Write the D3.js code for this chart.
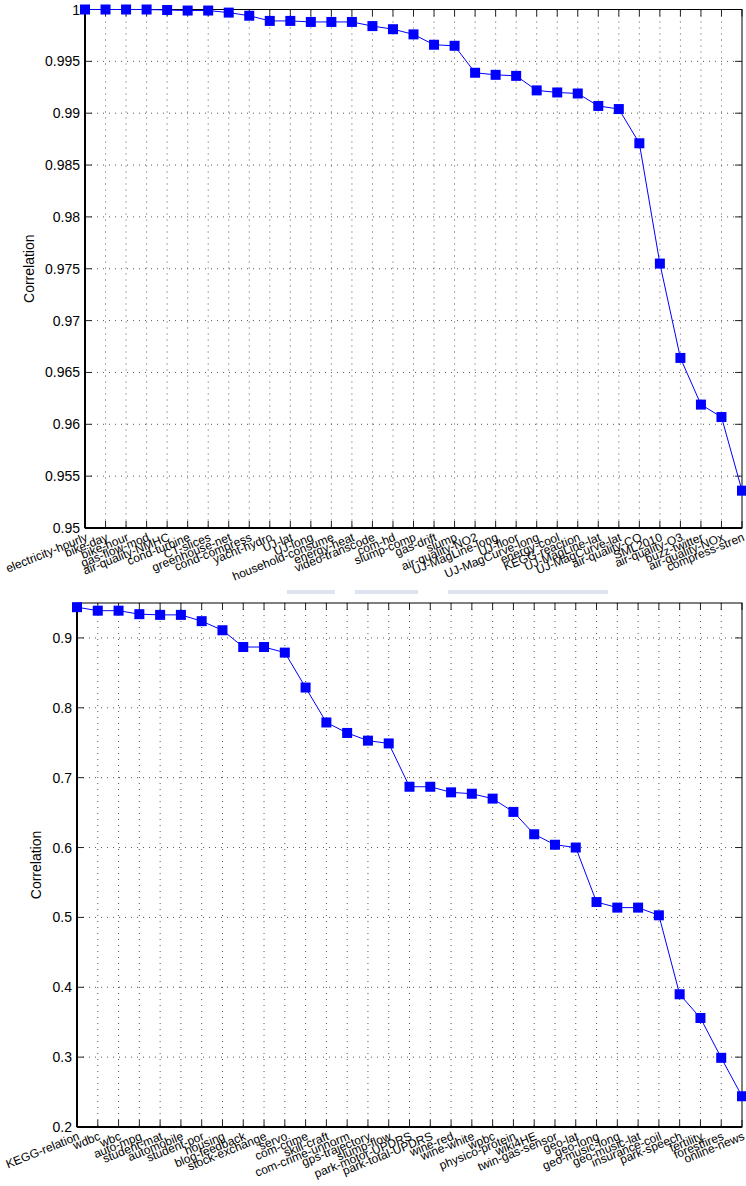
<!DOCTYPE html>
<html>
<head>
<meta charset="utf-8">
<script src="https://cdn.jsdelivr.net/npm/d3@7"></script>
<style>
  body { margin: 0; background: #fff; }
  svg { display: block; font-family: "Liberation Sans", Arial, Helvetica, sans-serif; }
</style>
</head>
<body>
<div id="chart"></div>
<script>
// top panel data
const topNames = ["electricity-hourly", "bike-day", "bike-hour", "gas-flow-mod", "air-quality-NMHC",
  "cond-turbine", "CT-slices", "greenhouse-net", "cond-compress", "yacht-hydro", "UJ-lat", "UJ-long",
  "household-consume", "energy-heat", "video-transcode", "com-hd", "slump-comp", "gas-drift", "slump",
  "air-quality-NO2", "UJ-MagLine-long", "UJ-floor", "UJ-MagCurve-long", "energy-cool", "KEGG-reaction",
  "UJ-MagLine-lat", "UJ-MagCurve-lat", "air-quality-CO", "SML2010", "air-quality-O3", "buzz-twitter",
  "air-quality-NOx", "compress-stren"];
const topValues = [1.0000, 1.0000, 1.0000, 1.0000, 0.99995, 0.9999, 0.9999, 0.9997, 0.9994, 0.9989,
  0.9989, 0.9988, 0.9988, 0.9988, 0.9984, 0.9981, 0.9976, 0.9966, 0.9965, 0.9939, 0.9937, 0.9936,
  0.9922, 0.9920, 0.9919, 0.9907, 0.9904, 0.9871, 0.9755, 0.9664, 0.9619, 0.9607, 0.9536];
const topTicks = [0.95, 0.955, 0.96, 0.965, 0.97, 0.975, 0.98, 0.985, 0.99, 0.995, 1];

// bottom panel data
const bottomNames = ["KEGG-relation", "wdbc", "wbc", "auto-mpg", "student-mat", "automobile",
  "student-por", "housing", "blog-feedback", "stock-exchange", "servo", "com-crime", "skill-craft",
  "com-crime-unnorm", "gps-trajectory", "slump-flow", "park-motor-UPDRS", "park-total-UPDRS",
  "wine-red", "wine-white", "wpbc", "physico-protein", "wiki4HE", "twin-gas-sensor", "geo-lat",
  "geo-long", "geo-music-long", "geo-music-lat", "insurance-coil", "park-speech", "fertility",
  "forestfires", "online-news"];
const bottomValues = [0.944, 0.939, 0.939, 0.934, 0.933, 0.933, 0.924, 0.911, 0.887, 0.887, 0.879,
  0.829, 0.779, 0.764, 0.753, 0.749, 0.687, 0.687, 0.679, 0.677, 0.670, 0.651, 0.619, 0.604, 0.600,
  0.522, 0.514, 0.514, 0.503, 0.390, 0.356, 0.299, 0.244];
const bottomTicks = [0.2, 0.3, 0.4, 0.5, 0.6, 0.7, 0.8, 0.9];

const width = 746, height = 1186;
const blue = "#0000ff";

const svg = d3.select("#chart").append("svg")
  .attr("width", width)
  .attr("height", height);

// faint highlight strips between the panels (scan artifacts)
[[287, 48], [355, 63], [448, 160]].forEach(([x, w]) => {
  svg.append("rect").attr("x", x).attr("y", 590).attr("width", w).attr("height", 4)
    .attr("fill", "#dfe3f1");
});

function drawPanel(names, values, yDomain, yTicks, box) {
  const g = svg.append("g");
  const x = d3.scaleLinear().domain([1, names.length]).range([box.left, box.right]);
  const y = d3.scaleLinear().domain(yDomain).range([box.bottom, box.top]);
  const idx = d3.range(1, names.length + 1);
  const tickLen = 7;

  // dotted grid
  g.append("g").selectAll("line").data(idx.slice(1, -1)).join("line")
    .attr("x1", d => x(d)).attr("x2", d => x(d))
    .attr("y1", box.top).attr("y2", box.bottom)
    .attr("stroke", "#555").attr("stroke-width", 1).attr("stroke-dasharray", "1,5");
  g.append("g").selectAll("line").data(yTicks.filter(t => y(t) > box.top + 1 && y(t) < box.bottom - 1)).join("line")
    .attr("x1", box.left).attr("x2", box.right)
    .attr("y1", d => y(d)).attr("y2", d => y(d))
    .attr("stroke", "#555").attr("stroke-width", 1).attr("stroke-dasharray", "1,5");

  // ticks (inside, mirrored)
  const tk = g.append("g").attr("stroke", "#222").attr("stroke-width", 1);
  idx.forEach(d => {
    tk.append("line").attr("x1", x(d)).attr("x2", x(d)).attr("y1", box.bottom).attr("y2", box.bottom - tickLen);
    tk.append("line").attr("x1", x(d)).attr("x2", x(d)).attr("y1", box.top).attr("y2", box.top + tickLen);
  });
  yTicks.forEach(t => {
    tk.append("line").attr("x1", box.left).attr("x2", box.left + tickLen).attr("y1", y(t)).attr("y2", y(t));
    tk.append("line").attr("x1", box.right).attr("x2", box.right - tickLen).attr("y1", y(t)).attr("y2", y(t));
  });

  // box
  g.append("rect")
    .attr("x", box.left).attr("y", box.top)
    .attr("width", box.right - box.left).attr("height", box.bottom - box.top)
    .attr("fill", "none").attr("stroke", "#000").attr("stroke-width", 1);
  g.append("line").attr("x1", box.left).attr("x2", box.left).attr("y1", box.top).attr("y2", box.bottom)
    .attr("stroke", "#000").attr("stroke-width", 2);
  g.append("line").attr("x1", box.left).attr("x2", box.right).attr("y1", box.bottom).attr("y2", box.bottom)
    .attr("stroke", "#000").attr("stroke-width", 2);

  // y tick labels
  g.append("g").selectAll("text").data(yTicks).join("text")
    .attr("x", box.left - 5).attr("y", d => y(d))
    .attr("dy", "0.36em")
    .attr("text-anchor", "end")
    .attr("font-size", 14)
    .text(d => String(+d.toFixed(3)));

  // y label
  g.append("text")
    .attr("transform", `translate(${box.ylabelX},${(box.top + box.bottom) / 2}) rotate(-90)`)
    .attr("text-anchor", "middle")
    .attr("font-size", 14)
    .text("Correlation");

  // rotated x tick labels
  g.append("g").selectAll("text").data(names).join("text")
    .attr("transform", (d, i) => `translate(${x(i + 1)},${box.bottom + 4}) rotate(-22)`)
    .attr("text-anchor", "end")
    .attr("dominant-baseline", "hanging")
    .attr("font-size", 12)
    .text(d => d);

  // line + square markers
  const line = d3.line().x((d, i) => x(i + 1)).y(d => y(d));
  g.append("path").datum(values)
    .attr("d", line)
    .attr("fill", "none").attr("stroke", blue).attr("stroke-width", 1);
  const s = 10;
  g.append("g").selectAll("rect").data(values).join("rect")
    .attr("x", (d, i) => x(i + 1) - s / 2).attr("y", d => y(d) - s / 2)
    .attr("width", s).attr("height", s)
    .attr("fill", blue);
}

drawPanel(topNames, topValues, [0.95, 1], topTicks,
  {left: 85, right: 742, top: 9.5, bottom: 528, ylabelX: 34});
drawPanel(bottomNames, bottomValues, [0.2, 0.95], bottomTicks,
  {left: 77, right: 742, top: 603, bottom: 1127, ylabelX: 41});
</script>
</body>
</html>
